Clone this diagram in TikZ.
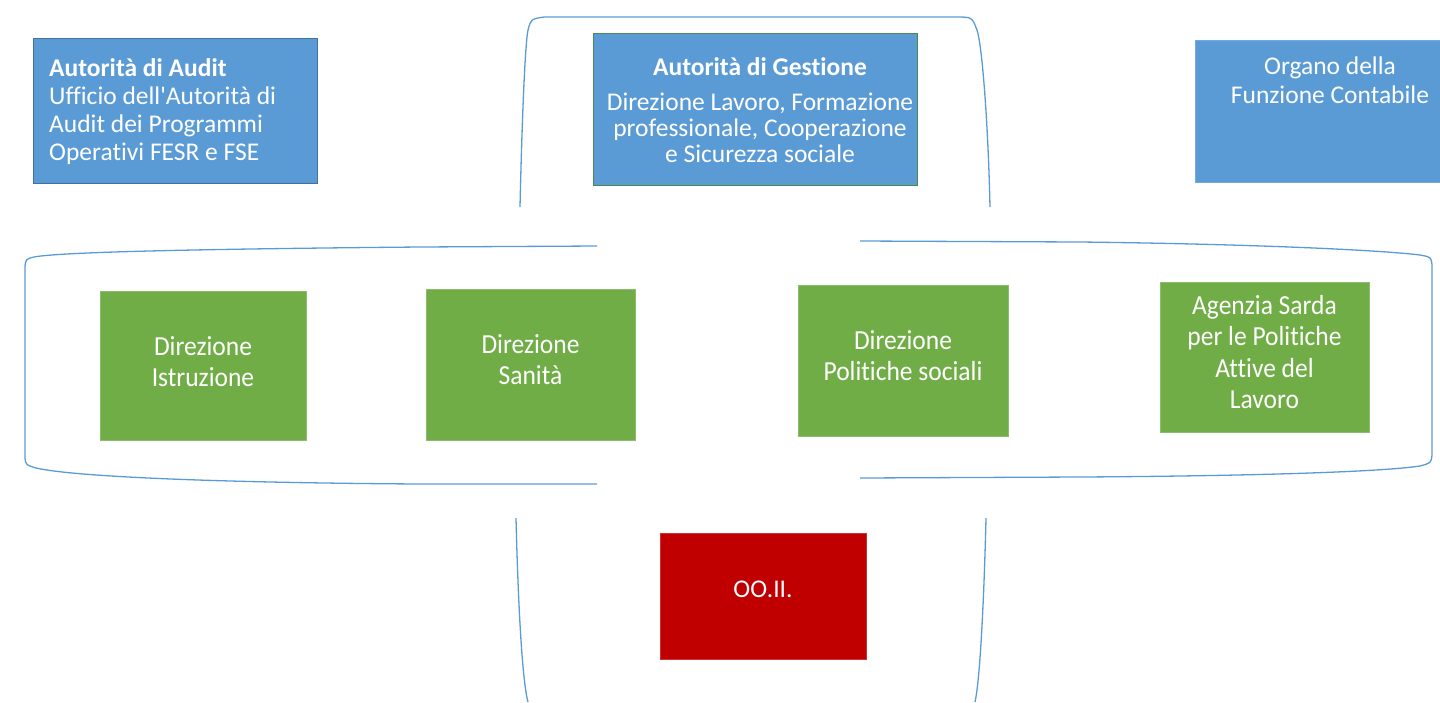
\documentclass[tikz,border=0pt]{standalone}
\usepackage{fontspec}
\setmainfont{Carlito}[Ligatures={NoCommon}]
\definecolor{bfill}{HTML}{5B9BD5}
\definecolor{bdraw}{HTML}{41719C}
\definecolor{gfill}{HTML}{70AD47}
\definecolor{rfill}{HTML}{C00000}
\definecolor{brk}{HTML}{5B9BD5}
\begin{document}
\begin{tikzpicture}[x=1pt,y=-1pt,
  every node/.style={font=\fontsize{25.5}{28}\selectfont, text=white, inner sep=0pt},
  bluebox/.style={fill=bfill, draw=bdraw, line width=0.8pt},
  greenbox/.style={fill=gfill, draw=gfill!80!white, line width=0.6pt},
  redbox/.style={fill=rfill, draw=rfill!80!white, line width=0.6pt},
  gtext/.style={align=center, font=\fontsize{25.5}{29.3}\selectfont, yscale=1.08},
  bracket/.style={draw=brk, line width=1.3pt}]
\useasboundingbox (0,0) rectangle (1440,702);
% brackets
\draw[bracket] (520,207) .. controls (522,120) and (525,45) .. (528,30)
  .. controls (531,19) .. (544,17) -- (956,17) .. controls (972,17) .. (977,30)
  .. controls (982,45) and (988,120) .. (990,207);
\draw[bracket] (516,518) .. controls (518,600) and (522,680) .. (528,702);
\draw[bracket] (986,518) .. controls (984,600) and (980,680) .. (975,702);
\draw[bracket] (597,246) -- (420,247) .. controls (200,249) and (60,252) .. (34,257)
  .. controls (26,259) .. (25,266) -- (25,458) .. controls (26,465) .. (36,468)
  .. controls (80,478) and (250,483) .. (420,484) -- (597,484);
\draw[bracket] (860,241) -- (1080,242) .. controls (1250,244) and (1380,250) .. (1420,255)
  .. controls (1431,257) .. (1432,265) -- (1432,455) .. controls (1431,463) .. (1420,466)
  .. controls (1380,472) and (1250,476) .. (1080,477) -- (860,478);
% top row
\node[bluebox, minimum width=284pt, minimum height=145pt] (audit) at (175,110.5) {};
\node[align=left, anchor=west] (audittext) at (49,112)
  {\textbf{Autorità di Audit}\\Ufficio dell\textquotesingle Autorità di\\Audit dei Programmi\\Operativi FESR e FSE};
\node[bluebox, draw=black!40!green!40!gray, minimum width=324pt, minimum height=152pt]
  (gest) at (755,109) {};
\node[align=center, font=\fontsize{25.5}{25.8}\selectfont] (gesttext) at (760,110)
  {\textbf{Autorità di Gestione}\\[10pt]Direzione Lavoro, Formazione\\professionale, Cooperazione\\e Sicurezza sociale};
\node[bluebox, draw=bfill!85!white, minimum width=250pt, minimum height=142pt]
  (organo) at (1320,111) {};
\node[align=center, font=\fontsize{25.5}{29}\selectfont] (organotext) at (1330,80.5)
  {Organo della\\Funzione Contabile};
% green row
\node[greenbox, minimum width=206pt, minimum height=149pt] (istr) at (203,365.5) {};
\node[gtext] (istrt) at (203,361.5) {Direzione\\Istruzione};
\node[greenbox, minimum width=209pt, minimum height=151pt] (san) at (530.5,364.5) {};
\node[gtext] (sant) at (530.5,359.5) {Direzione\\Sanità};
\node[greenbox, minimum width=210pt, minimum height=151pt] (pol) at (903,360.5) {};
\node[gtext] (polt) at (903,355.5) {Direzione\\Politiche sociali};
\node[greenbox, minimum width=209pt, minimum height=150pt] (aspal) at (1264.5,357) {};
\node[gtext] (aspalt) at (1264.5,352) {Agenzia Sarda\\per le Politiche\\Attive del\\Lavoro};
% bottom
\node[redbox, minimum width=206pt, minimum height=126pt] (ooii) at (763,596) {};
\node (ooiit) at (763,589) {OO.II.};
\end{tikzpicture}
\end{document}
